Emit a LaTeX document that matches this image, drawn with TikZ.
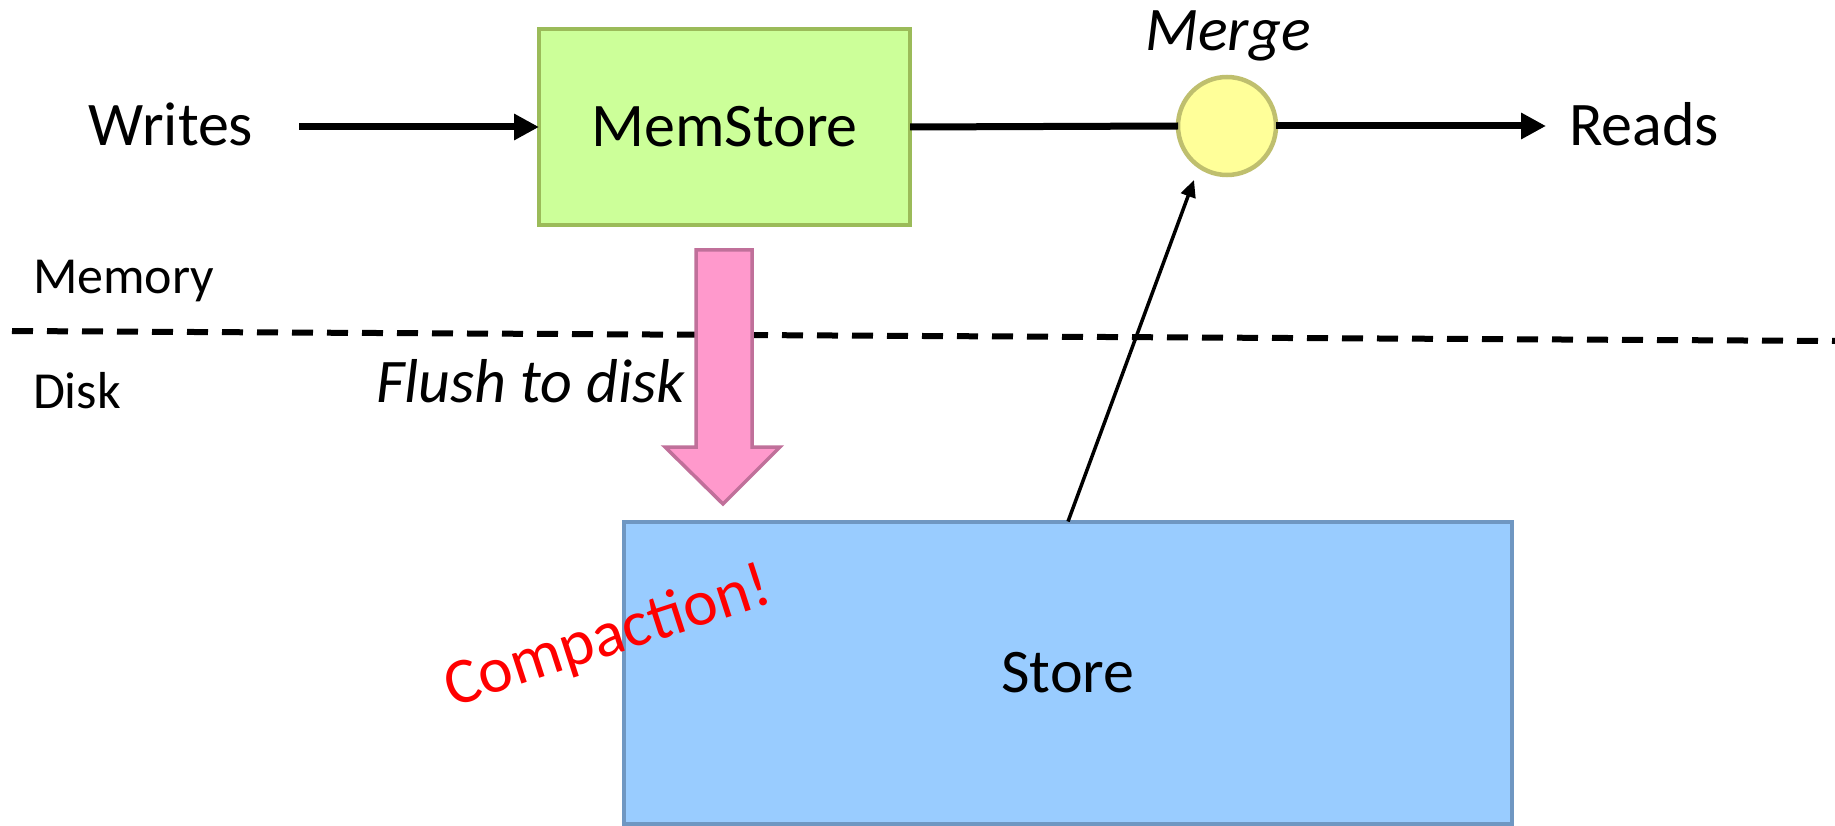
\documentclass[tikz,border=0pt]{standalone}
\usepackage{fontspec}
\setmainfont{Carlito}
\usetikzlibrary{arrows.meta}
\definecolor{memfill}{HTML}{CCFF99}
\definecolor{memdraw}{HTML}{9BBB59}
\definecolor{mergefill}{HTML}{FFFF99}
\definecolor{mergedraw}{HTML}{BFBF6E}
\definecolor{pinkfill}{HTML}{FF99CC}
\definecolor{pinkdraw}{HTML}{C0709A}
\definecolor{storefill}{HTML}{99CCFF}
\definecolor{storedraw}{HTML}{6F97C2}
\tikzset{
  lbl/.style={inner sep=0pt, outer sep=0pt, font=\fontsize{62}{70}\selectfont},
  small/.style={inner sep=0pt, outer sep=0pt, font=\fontsize{52}{60}\selectfont},
  boxA/.style={draw=memdraw, fill=memfill, line width=4.5pt, minimum width=371pt, minimum height=196pt, inner sep=0pt, outer sep=0pt, font=\fontsize{62}{70}\selectfont},
  boxB/.style={draw=storedraw, fill=storefill, line width=4pt, minimum width=888pt, minimum height=302pt, inner sep=0pt, outer sep=0pt, font=\fontsize{62}{70}\selectfont},
  mergenode/.style={circle, draw=mergedraw, fill=mergefill, line width=4.5pt, minimum size=98pt, inner sep=0pt, outer sep=0pt},
  thick conn/.style={line width=7pt, draw=black},
  thin conn/.style={line width=3.5pt, draw=black, -{Triangle[length=17pt,width=15pt]}},
  divider/.style={line width=6pt, dash pattern=on 21pt off 14pt},
}
\begin{document}
\begin{tikzpicture}[x=1pt, y=-1pt]
\useasboundingbox (0,0) rectangle (1835,826);
% divider
\coordinate (dl) at (12,331);
\coordinate (dr) at (1835,341);
\draw[divider] (dl) -- (dr);
% nodes
\node[boxA] (mem) at (724.5,127) {MemStore};
\node[mergenode] (merge) at (1227,126) {};
\node[boxB] (store) at (1068,672.5) {Store};
\node[lbl, anchor=base] (writes) at (171,146) {Writes};
\node[lbl, anchor=base west] (reads) at (1569,146) {Reads};
\node[lbl, anchor=base, font=\fontsize{62}{70}\selectfont\itshape] (mergelbl) at (1228,51) {Merge};
\node[small, anchor=base west] (memory) at (33,293) {Memory};
\node[small, anchor=base west] (disk) at (33,408) {Disk};
\node[lbl, anchor=base east, font=\fontsize{62}{70}\selectfont\itshape] (flush) at (685,402) {Flush to disk};
\node[inner sep=0pt, outer sep=0pt, anchor=base west, rotate=18, text=red, font=\fontsize{65}{72}\selectfont] (compact) at (452,707) {Compaction!};
% flush arrow
\draw[draw=pinkdraw, fill=pinkfill, line width=3.5pt, line join=miter]
  (696,250) -- (752,250) -- (752,447) -- (780,447) -- (723,504) -- (665,447) -- (696,447) -- cycle;
% connectors
\draw[thick conn, -{Triangle[length=25pt,width=25pt]}] ([xshift=46pt]writes.east |- mem.west) -- (mem.west);
\draw[thick conn] (mem.east) -- (merge.west);
\draw[thick conn, -{Triangle[length=25pt,width=25pt]}] (merge.east) -- ([xshift=-23pt]reads.west |- merge.east);
\coordinate (mtip) at (1194,180);
\draw[thin conn] (store.north) -- (mtip);
\end{tikzpicture}
\end{document}
